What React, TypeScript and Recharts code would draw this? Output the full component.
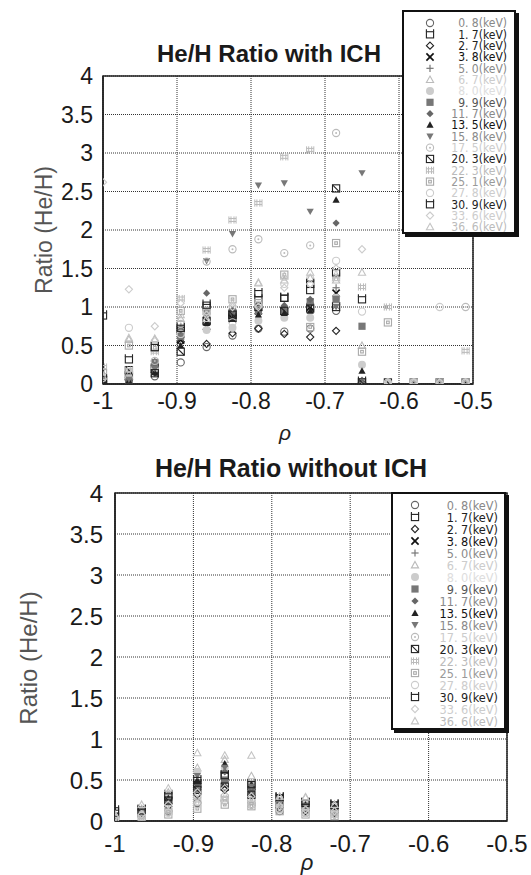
import { ScatterChart, Scatter, XAxis, YAxis, CartesianGrid, ReferenceArea } from "recharts";

// rho positions of the measurement columns
const rhoWith = [-1.0, -0.965, -0.93, -0.895, -0.86, -0.825, -0.79, -0.755, -0.72, -0.685, -0.65, -0.615, -0.58, -0.545, -0.51];
const rhoWithout = [-1.0, -0.966, -0.932, -0.895, -0.86, -0.826, -0.79, -0.757, -0.72];

const xTicks = [-1, -0.9, -0.8, -0.7, -0.6, -0.5];
const yTicks = [0, 0.5, 1, 1.5, 2, 2.5, 3, 3.5, 4];

const energies = ["0. 8", "1. 7", "2. 7", "3. 8", "5. 0", "6. 7", "8. 0", "9. 9", "11. 7", "13. 5", "15. 8", "17. 5", "20. 3", "22. 3", "25. 1", "27. 8", "30. 9", "33. 6", "36. 6"];
const markerKinds = ["circle", "sqTick", "diamond", "x", "plus", "tri", "fcircle", "fsquare", "fdiamond", "ftri", "fdown", "dotcircle", "xsquare", "hash", "dsquare", "circle", "sqTick", "diamond", "tri"];
const markerColors = ["#666", "#222", "#222", "#111", "#777", "#bbb", "#ccc", "#777", "#666", "#222", "#777", "#bbb", "#222", "#bbb", "#aaa", "#ccc", "#222", "#ccc", "#c4c4c4"];
const textColors = ["#888", "#222", "#222", "#111", "#888", "#ccc", "#ddd", "#555", "#888", "#111", "#888", "#ccc", "#222", "#bbb", "#999", "#ccc", "#222", "#ccc", "#bbb"];

// He/H ratio with ICH, one array per energy channel (null = no point)
const w0_8 = [0.04, 0.05, 0.1, 0.28, 0.48, 0.63, 0.72, 0.68, 0.72, 0.95, 0.02, 0.02, 0.02, 0.02, 0.02];
const w1_7 = [0.89, 0.1, 0.2, 0.7, 1.0, 0.9, 1.1, 1.12, 1.22, 1.0, 0.03, null, null, null, null];
const w2_7 = [0.03, 0.06, 0.15, 0.55, 0.52, 0.66, 0.72, 0.65, 0.61, 0.69, 0.02, null, null, null, null];
const w3_8 = [0.02, 0.05, 0.26, 0.57, 0.75, 0.85, 0.95, 0.94, 1.0, 1.18, 0.02, null, null, null, null];
const w5_0 = [0.1, 0.15, 0.3, 0.75, 0.85, 0.9, 1.0, 1.0, 1.05, 1.25, 0.02, 0.02, 0.02, 0.02, 0.02];
const w6_7 = [0.06, 0.58, 0.58, 0.85, 0.8, 0.95, 1.31, 1.35, 1.38, 1.35, 0.5, 0.02, 0.02, 0.02, 0.02];
const w8_0 = [0.05, 0.08, 0.2, 0.65, 0.7, 0.73, 0.82, 0.86, 0.86, 1.12, 0.25, 0.02, null, null, null];
const w9_9 = [0.02, 0.03, 0.28, 0.62, 0.92, 0.94, 0.95, 0.95, 1.07, 1.1, 0.75, null, null, null, null];
const w11_7 = [0.03, 0.05, 0.22, 0.7, 1.18, 0.95, 1.0, 1.02, 1.1, 2.09, 0.05, null, null, null, null];
const w13_5 = [0.02, 0.04, 0.15, 0.5, 0.79, 0.85, 0.9, 0.92, 0.95, 2.39, 0.17, null, null, null, null];
const w15_8 = [0.04, 0.06, 0.2, 0.72, 1.6, 1.95, 2.58, 2.61, 2.24, 1.0, 2.74, null, null, null, null];
const w17_5 = [0.1, 0.15, 0.3, 0.78, 1.59, 1.75, 1.88, 1.7, 1.8, 3.26, 0.02, 0.02, 0.02, 0.02, 1.0];
const w20_3 = [0.05, 0.18, 0.14, 0.42, 0.82, 0.9, 1.0, 0.95, 0.98, 2.54, 0.02, 0.02, 0.02, 0.02, 0.02];
const w22_3 = [0.22, 0.18, 0.42, 1.11, 1.74, 2.13, 2.35, 2.95, 3.04, 1.4, 1.26, 1.0, 0.02, 0.02, 0.43];
const w25_1 = [0.14, 0.5, 0.47, 0.95, 0.95, 1.1, 1.05, 1.42, 0.74, 1.83, 0.42, 0.8, 0.02, 0.02, 0.02];
const w27_8 = [0.08, 0.73, 0.55, 0.65, 0.95, 0.8, 1.03, 1.3, 1.37, 1.6, 0.94, 0.02, 0.02, 1.0, 0.02];
const w30_9 = [0.06, 0.32, 0.48, 0.73, 1.03, 0.86, 1.18, 1.12, 1.3, 1.45, 1.1, null, null, null, null];
const w33_6 = [2.62, 1.23, 0.75, 1.05, 0.9, 1.0, 1.0, 1.25, 1.3, 1.5, 1.75, 0.02, 0.02, 0.02, 0.02];
const w36_6 = [0.1, 0.6, 0.59, 0.9, 0.85, 1.05, 1.32, 1.4, 1.45, 1.38, 1.45, 0.02, null, null, null];

// He/H ratio without ICH
const n0_8 = [0.04, 0.06, 0.12, 0.22, 0.25, 0.2, 0.12, 0.1, 0.08];
const n1_7 = [0.13, 0.14, 0.32, 0.45, 0.55, 0.42, 0.28, 0.22, 0.2];
const n2_7 = [0.05, 0.08, 0.18, 0.32, 0.38, 0.3, 0.15, 0.12, 0.1];
const n3_8 = [0.06, 0.1, 0.25, 0.42, 0.45, 0.35, 0.2, 0.16, 0.15];
const n5_0 = [0.05, 0.1, 0.22, 0.4, 0.48, 0.38, 0.22, 0.18, 0.16];
const n6_7 = [0.08, 0.15, 0.35, 0.65, 0.75, 0.55, 0.3, 0.29, 0.2];
const n8_0 = [0.06, 0.12, 0.3, 0.6, 0.65, 0.45, 0.25, 0.2, 0.16];
const n9_9 = [0.05, 0.1, 0.25, 0.38, 0.5, 0.35, 0.2, 0.18, 0.14];
const n11_7 = [0.05, 0.1, 0.25, 0.45, 0.6, 0.4, 0.22, 0.18, 0.15];
const n13_5 = [0.06, 0.1, 0.28, 0.5, 0.7, 0.45, 0.25, 0.2, 0.17];
const n15_8 = [0.05, 0.1, 0.25, 0.55, 0.65, 0.42, 0.22, 0.18, 0.15];
const n17_5 = [0.04, 0.08, 0.15, 0.3, 0.3, 0.25, 0.15, 0.1, 0.08];
const n20_3 = [0.05, 0.1, 0.25, 0.38, 0.42, 0.32, 0.2, 0.16, 0.14];
const n22_3 = [0.04, 0.08, 0.12, 0.25, 0.28, 0.22, 0.22, 0.15, 0.1];
const n25_1 = [0.03, 0.05, 0.08, 0.15, 0.2, 0.18, 0.12, 0.08, 0.06];
const n27_8 = [0.03, 0.06, 0.1, 0.2, 0.25, 0.2, 0.14, 0.1, 0.08];
const n30_9 = [0.1, 0.13, 0.3, 0.5, 0.56, 0.45, 0.29, 0.22, 0.2];
const n33_6 = [0.05, 0.08, 0.2, 0.35, 0.4, 0.3, 0.18, 0.14, 0.12];
const n36_6 = [0.08, 0.2, 0.4, 0.83, 0.8, 0.8, 0.3, 0.29, 0.2];

const withIch = [w0_8, w1_7, w2_7, w3_8, w5_0, w6_7, w8_0, w9_9, w11_7, w13_5, w15_8, w17_5, w20_3, w22_3, w25_1, w27_8, w30_9, w33_6, w36_6];
const withoutIch = [n0_8, n1_7, n2_7, n3_8, n5_0, n6_7, n8_0, n9_9, n11_7, n13_5, n15_8, n17_5, n20_3, n22_3, n25_1, n27_8, n30_9, n33_6, n36_6];

const Marker = ({ cx, cy, kind, color }: any) => {
  if (cx == null || cy == null) return null;
  const s = 3.6;
  const o = { fill: "none", stroke: color, strokeWidth: 1.1 };
  switch (kind) {
    case "circle":
      return <circle cx={cx} cy={cy} r={s} {...o} />;
    case "sqTick":
      return (
        <g {...o}>
          <rect x={cx - s} y={cy - s + 1} width={2 * s} height={2 * s - 1} />
          <line x1={cx - s} y1={cy - s + 1} x2={cx - s} y2={cy - s - 1.5} />
          <line x1={cx + s} y1={cy - s + 1} x2={cx + s} y2={cy - s - 1.5} />
        </g>
      );
    case "diamond":
      return <polygon points={`${cx},${cy - s} ${cx + s},${cy} ${cx},${cy + s} ${cx - s},${cy}`} {...o} />;
    case "x":
      return (
        <g stroke={color} strokeWidth={1.7}>
          <line x1={cx - s} y1={cy - s} x2={cx + s} y2={cy + s} />
          <line x1={cx - s} y1={cy + s} x2={cx + s} y2={cy - s} />
        </g>
      );
    case "plus":
      return (
        <g stroke={color} strokeWidth={1.2}>
          <line x1={cx - s} y1={cy} x2={cx + s} y2={cy} />
          <line x1={cx} y1={cy - s} x2={cx} y2={cy + s} />
        </g>
      );
    case "tri":
      return <polygon points={`${cx},${cy - s} ${cx + s},${cy + s * 0.8} ${cx - s},${cy + s * 0.8}`} {...o} />;
    case "fcircle":
      return <circle cx={cx} cy={cy} r={s + 0.4} fill={color} />;
    case "fsquare":
      return <rect x={cx - s} y={cy - s} width={2 * s} height={2 * s} fill={color} />;
    case "fdiamond":
      return <polygon points={`${cx},${cy - s} ${cx + s},${cy} ${cx},${cy + s} ${cx - s},${cy}`} fill={color} />;
    case "ftri":
      return <polygon points={`${cx},${cy - s} ${cx + s},${cy + s * 0.8} ${cx - s},${cy + s * 0.8}`} fill={color} />;
    case "fdown":
      return <polygon points={`${cx},${cy + s} ${cx + s},${cy - s * 0.8} ${cx - s},${cy - s * 0.8}`} fill={color} />;
    case "dotcircle":
      return (
        <g>
          <circle cx={cx} cy={cy} r={s} {...o} />
          <circle cx={cx} cy={cy} r={1} fill={color} />
        </g>
      );
    case "xsquare":
      return (
        <g {...o}>
          <rect x={cx - s} y={cy - s} width={2 * s} height={2 * s} />
          <line x1={cx - s} y1={cy - s} x2={cx + s} y2={cy + s} />
        </g>
      );
    case "hash":
      return (
        <g stroke={color} strokeWidth={1}>
          <line x1={cx - s} y1={cy - 1.5} x2={cx + s} y2={cy - 1.5} />
          <line x1={cx - s} y1={cy + 1.5} x2={cx + s} y2={cy + 1.5} />
          <line x1={cx - 1.5} y1={cy - s} x2={cx - 1.5} y2={cy + s} />
          <line x1={cx + 1.5} y1={cy - s} x2={cx + 1.5} y2={cy + s} />
          <line x1={cx - s} y1={cy - s} x2={cx - s} y2={cy + s} />
          <line x1={cx + s} y1={cy - s} x2={cx + s} y2={cy + s} />
        </g>
      );
    case "dsquare":
      return (
        <g {...o}>
          <rect x={cx - s} y={cy - s} width={2 * s} height={2 * s} />
          <rect x={cx - 1.3} y={cy - 1.3} width={2.6} height={2.6} />
        </g>
      );
    default:
      return null;
  }
};

const Panel = ({ rho, series, height, margin, fontSize, tickGapX, tickGapY }: any) => (
  <ScatterChart width={531} height={height} margin={margin}>
    <CartesianGrid stroke="#333" strokeDasharray="1 1" />
    <XAxis
      type="number"
      dataKey="x"
      domain={[-1, -0.5]}
      ticks={xTicks}
      allowDataOverflow
      height={30}
      tickSize={0}
      tickMargin={tickGapX}
      axisLine={{ stroke: "#222", strokeWidth: 1.5 }}
      tick={{ fill: "#1a1a1a", fontSize, fontFamily: "'Liberation Sans', Arial, sans-serif" }}
    />
    <YAxis
      type="number"
      dataKey="y"
      domain={[0, 4]}
      ticks={yTicks}
      allowDataOverflow
      width={60}
      tickSize={0}
      tickMargin={tickGapY}
      axisLine={{ stroke: "#222", strokeWidth: 1.5 }}
      tick={{ fill: "#1a1a1a", fontSize, fontFamily: "'Liberation Sans', Arial, sans-serif" }}
    />
    <ReferenceArea x1={-1} x2={-0.5} y1={0} y2={4} fill="none" stroke="#222" strokeWidth={1.5} ifOverflow="visible" />
    {series.map((vals: (number | null)[], i: number) => (
      <Scatter
        key={energies[i]}
        name={`${energies[i]}(keV)`}
        data={rho.map((x: number, j: number) => ({ x, y: vals[j] })).filter((d: any) => d.y != null)}
        isAnimationActive={false}
        shape={(p: any) => <Marker cx={p.cx} cy={p.cy} kind={markerKinds[i]} color={markerColors[i]} />}
      />
    ))}
  </ScatterChart>
);

const LegendBox = ({ left, top, width, height, markerX, textRight, rowTop, rowStep, fontSize }: any) => (
  <div
    style={{
      position: "absolute",
      left,
      top,
      width,
      height,
      boxSizing: "border-box",
      background: "#fff",
      border: "2px solid #111",
      boxShadow: "3px 3px 0 #111",
    }}
  >
    <svg width={width - 4} height={height - 4} style={{ position: "absolute", left: 0, top: 0, overflow: "visible" }}>
      {energies.map((e, i) => (
        <g key={e}>
          <Marker cx={markerX} cy={rowTop + i * rowStep} kind={markerKinds[i]} color={markerColors[i]} />
          <text
            x={textRight}
            y={rowTop + i * rowStep + fontSize * 0.36}
            textAnchor="end"
            fontSize={fontSize}
            fill={textColors[i]}
            fontFamily="'Liberation Sans Narrow', 'DejaVu Sans Condensed', sans-serif"
          >
            {`${e}(keV)`}
          </text>
        </g>
      ))}
    </svg>
  </div>
);

const App = () => (
  <div style={{ position: "absolute", left: 0, top: 0, width: 531, height: 875, background: "#fff" }}>
    <div style={{ position: "absolute", left: 0, top: 0 }}>
      <Panel
        rho={rhoWith}
        series={withIch}
        height={445}
        margin={{ top: 76, right: 58, bottom: 31, left: 43 }}
        fontSize={23}
        tickGapX={9}
        tickGapY={10}
      />
    </div>
    <div style={{ position: "absolute", left: 0, top: 440 }}>
      <Panel
        rho={rhoWithout}
        series={withoutIch}
        height={435}
        margin={{ top: 53, right: 24, bottom: 24, left: 55 }}
        fontSize={24}
        tickGapX={14}
        tickGapY={12}
      />
    </div>
    <svg width={531} height={875} style={{ position: "absolute", left: 0, top: 0, pointerEvents: "none" }}>
      <g fontFamily="'Liberation Sans', Arial, sans-serif">
        <text x={269} y={62} textAnchor="middle" fontSize={24} fontWeight="bold" fill="#1a1a1a">
          He/H Ratio with ICH
        </text>
        <text x={291} y={477} textAnchor="middle" fontSize={25} fontWeight="bold" fill="#1a1a1a">
          He/H Ratio without ICH
        </text>
        <text transform="translate(44,230) rotate(-90)" textAnchor="middle" dy="0.35em" fontSize={23} fill="#555">
          Ratio (He/H)
        </text>
        <text transform="translate(29,658) rotate(-90)" textAnchor="middle" dy="0.35em" fontSize={24} fill="#555">
          Ratio (He/H)
        </text>
        <text x={285} y={440} textAnchor="middle" fontSize={21} fontStyle="italic" fill="#222">ρ</text>
        <text x={307} y={870} textAnchor="middle" fontSize={22} fontStyle="italic" fill="#222">ρ</text>
      </g>
    </svg>
    <LegendBox left={402} top={10} width={114} height={224} markerX={26} textRight={103} rowTop={11} rowStep={11.33} fontSize={12} />
    <LegendBox left={391} top={492} width={115} height={238} markerX={22} textRight={105} rowTop={11} rowStep={12} fontSize={12.6} />
  </div>
);

export default App;
